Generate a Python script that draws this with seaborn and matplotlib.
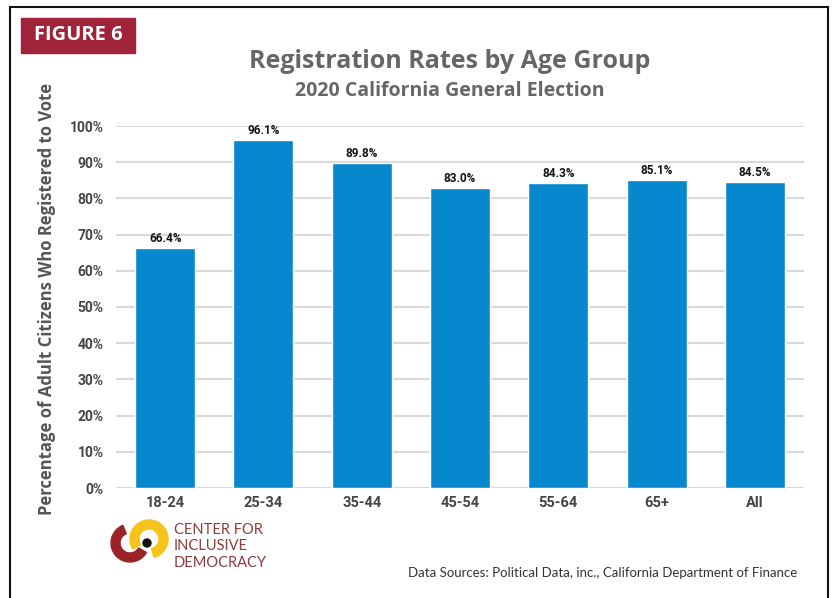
import matplotlib
matplotlib.use("Agg")
import matplotlib.pyplot as plt
import matplotlib.patches as mpatches
import seaborn as sns
import pandas as pd

# Valores
grupos = ["18-24", "25-34", "35-44", "45-54", "55-64", "65+", "All"]
taxas = [66.4, 96.1, 89.8, 83.0, 84.3, 85.1, 84.5]
rotulos = ["66.4%", "96.1%", "89.8%", "83.0%", "84.3%", "85.1%", "84.5%"]
ticks_y = [0, 10, 20, 30, 40, 50, 60, 70, 80, 90, 100]

df = pd.DataFrame({"grupo": grupos, "taxa": taxas})

sns.set_style("white")
plt.rcParams["font.family"] = ["Open Sans", "DejaVu Sans"]
estreita = ["Lato", "DejaVu Sans"]
negrito = ["Roboto", "DejaVu Sans"]

fig = plt.figure(figsize=(8.33, 5.98), dpi=100)
ax = fig.add_axes([116 / 833, 110 / 598, 688 / 833, 362 / 598])

sns.barplot(data=df, x="grupo", y="taxa", color="#0788CE", width=0.61,
            saturation=1, ax=ax, zorder=3)

ax.set_ylim(0, 100)
ax.set_yticks(ticks_y)
ax.set_yticklabels([f"{t}%" for t in ticks_y], fontsize=10, fontweight="bold",
                   color="#444444", family=negrito)
ax.set_xticklabels(grupos, fontsize=10.5, fontweight="bold", color="#444444",
                   family=negrito)
ax.tick_params(axis="y", length=0, pad=9)
ax.tick_params(axis="x", length=0, pad=6)
ax.yaxis.grid(True, color="#d9d9d9", linewidth=1.5, zorder=0)
ax.set_axisbelow(True)
for lado in ["top", "right", "left", "bottom"]:
    ax.spines[lado].set_visible(False)
ax.set_xlabel("")
ax.set_ylabel("")

# Rótulos dos valores acima das barras
for i, (v, r) in enumerate(zip(taxas, rotulos)):
    ax.text(i, v + 0.8, r, ha="center", va="bottom", fontsize=8.5,
            fontweight="bold", color="#111111", clip_on=False, family=negrito)

# Títulos
fig.text(450 / 833, 1 - 62 / 598, "Registration Rates by Age Group", ha="center",
         va="center", fontsize=18, fontweight="bold", color="#666666")
fig.text(450 / 833, 1 - 91 / 598, "2020 California General Election", ha="center",
         va="center", fontsize=14, fontweight="bold", color="#666666")

fig.text(47 / 833, 1 - 299 / 598, "Percentage of Adult Citizens Who Registered to Vote",
         rotation=90, ha="center", va="center", fontsize=12, fontweight="bold",
         color="#555555")

# Caixa "FIGURE 6"
fig.patches.append(mpatches.Rectangle((21 / 833, 1 - 53 / 598), 114 / 833, 35 / 598,
                                      transform=fig.transFigure, color="#A0233A",
                                      zorder=5))
fig.text(78 / 833, 1 - 35.5 / 598, "FIGURE 6", ha="center", va="center",
         fontsize=14.5, fontweight="bold", color="white", zorder=6)

# Moldura
fig.patches.append(mpatches.Rectangle((10 / 833, -0.05), 818 / 833, 1 - 7 / 598 + 0.05,
                                      transform=fig.transFigure, fill=False,
                                      edgecolor="#111111", linewidth=1.5, zorder=10))

# Fonte dos dados
fig.text(797 / 833, 1 - 573 / 598,
         "Data Sources: Political Data, inc., California Department of Finance",
         ha="right", va="center", fontsize=9.5, color="#333333", family=estreita)

# Logo aproximado (coordenadas em pixels, y para cima negativo)
logo = fig.add_axes([105 / 833, 1 - 570 / 598, 65 / 833, 55 / 598])
logo.set_xlim(105, 170)
logo.set_ylim(-570, -515)
logo.axis("off")
logo.add_patch(mpatches.Wedge((130, -543), 19, 112, 330, width=9, color="#9B2226"))
logo.add_patch(mpatches.Wedge((149, -539), 19, -75, 212, width=9, color="#F6C21C"))
logo.add_patch(mpatches.Circle((147, -543), 4, color="#111111"))

for k, palavra in enumerate(["CENTER FOR", "INCLUSIVE", "DEMOCRACY"]):
    fig.text(174 / 833, 1 - (530 + k * 16.5) / 598, palavra, ha="left", va="center",
             fontsize=10.5, color="#8E3B3B", family=estreita)

fig.savefig("out.png", dpi=100)
plt.close(fig)
